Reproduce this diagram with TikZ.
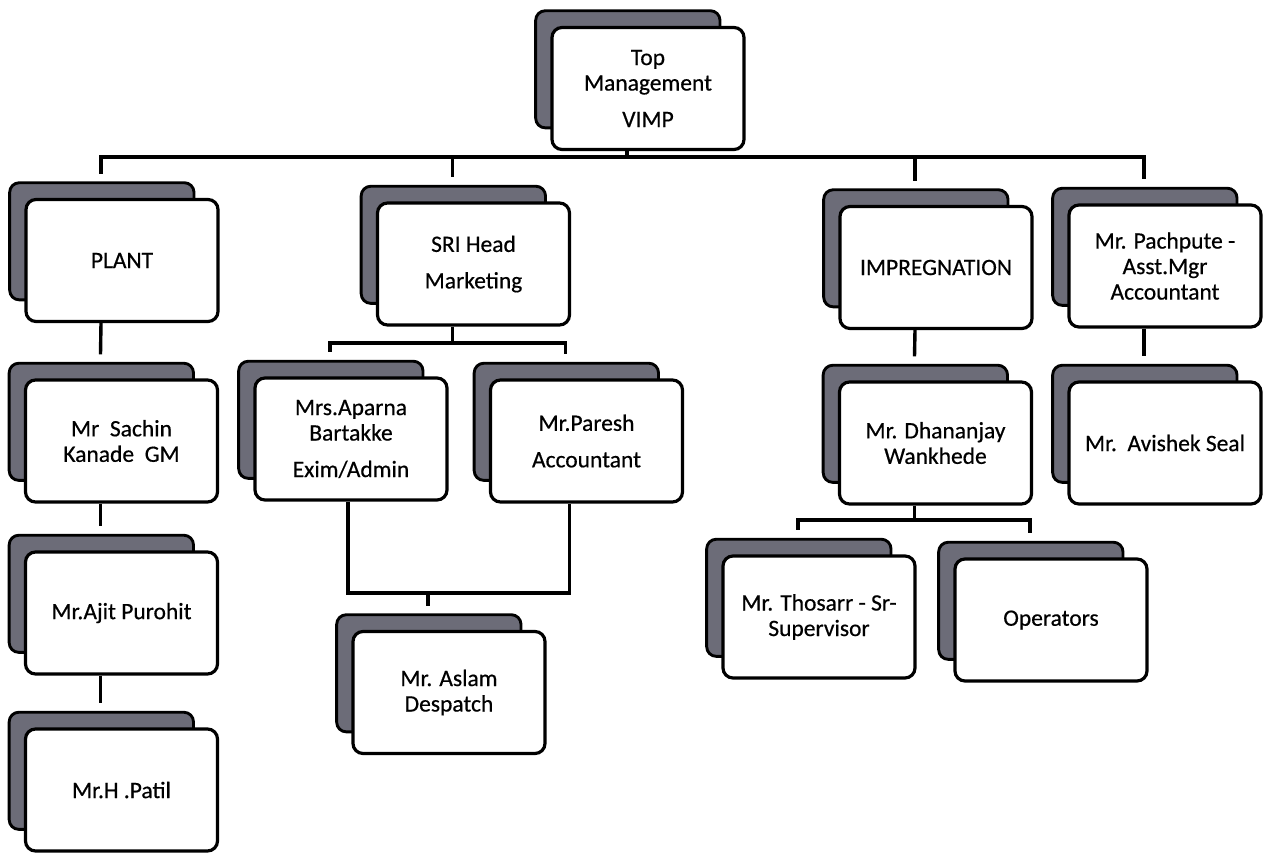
\documentclass[tikz,border=0pt]{standalone}
\usepackage{fontspec}
\setmainfont{Carlito}
\newfontfamily\boxfont{Carlito}[FakeBold=0.5]
\usetikzlibrary{shadows,calc}
\definecolor{shadowgray}{RGB}{108,108,120}
\begin{document}
\begin{tikzpicture}[x=1pt,y=-1pt,
  box/.style={draw=black, line width=3.2pt, fill=white, rounded corners=10pt,
    minimum width=192pt, minimum height=122pt, inner sep=2pt, align=center,
    font=\boxfont\fontsize{23.5}{25.5}\selectfont,
    general shadow={fill=shadowgray, draw=black, line width=3pt,
      shadow scale=0.96, shadow xshift=-21pt, shadow yshift=20pt}},
  conn/.style={draw=black, line width=3.4pt}]
\useasboundingbox[fill=white] (0,0) rectangle (1263,854);
% nodes
\node[box] (top) at (648,88.5) {Top\\Management\\[11pt]VIMP};
\node[box] (plant) at (122,260.5) {PLANT};
\node[box] (sri) at (473.5,264) {SRI Head\\[11pt]Marketing};
\node[box] (impreg) at (936,267.5) {IMPREGNATION};
\node[box] (pach) at (1165,266) {Mr. Pachpute -\\Asst.Mgr\\Accountant};
\node[box] (sachin) at (121.5,441) {Mr\ \ Sachin\\Kanade\ \ GM};
\node[box] (ajit) at (121.5,613) {Mr.Ajit Purohit};
\node[box] (patil) at (121.5,790) {Mr.H .Patil};
\node[box] (aparna) at (351,439) {Mrs.Aparna\\Bartakke\\[11pt]Exim/Admin};
\node[box] (paresh) at (586.5,441) {Mr.Paresh\\[11pt]Accountant};
\node[box] (aslam) at (449,692.5) {Mr. Aslam\\Despatch};
\node[box] (dhan) at (935.5,443) {Mr. Dhananjay\\Wankhede};
\node[box] (avishek) at (1165,443) {Mr.\ \ Avishek Seal};
\node[box] (thos) at (819,617) {Mr. Thosarr - Sr-\\Supervisor};
\node[box] (oper) at (1051,620) {Operators};
% bus coordinates
\coordinate (bus) at (0,157);
\coordinate (sbus) at (0,343);
\coordinate (abus) at (0,593);
\coordinate (dbus) at (0,520);
% top level
\foreach \c in {plant,sri,impreg,pach}
  \draw[conn] ([xshift=-21pt]top.south) -- ([xshift=-21pt]top.south |- bus)
     -| ([xshift=-21pt,yshift=24pt]\c.north);
% straight chains
\draw[conn] ([xshift=-21pt]plant.south) -- ([xshift=-21pt,yshift=24pt]sachin.north);
\draw[conn] ([xshift=-21pt]sachin.south) -- ([xshift=-21pt,yshift=24pt]ajit.north);
\draw[conn] ([xshift=-21pt]ajit.south) -- ([xshift=-21pt,yshift=24pt]patil.north);
\draw[conn] ([xshift=-21pt]impreg.south) -- ([xshift=-21pt,yshift=24pt]dhan.north);
\draw[conn] ([xshift=-21pt]pach.south) -- ([xshift=-21pt,yshift=24pt]avishek.north);
% marketing
\foreach \c in {aparna,paresh}
  \draw[conn] ([xshift=-21pt]sri.south) -- ([xshift=-21pt]sri.south |- sbus)
     -| ([xshift=-21pt,yshift=24pt]\c.north);
\draw[conn] ([xshift=-3pt]aparna.south) -- ([xshift=-3pt]aparna.south |- abus)
   -| ([xshift=-17pt]paresh.south);
\draw[conn] ([xshift=-21pt]aslam.north |- abus) -- ([xshift=-21pt,yshift=24pt]aslam.north);
% impregnation
\foreach \c in {thos,oper}
  \draw[conn] ([xshift=-21pt]dhan.south) -- ([xshift=-21pt]dhan.south |- dbus)
     -| ([xshift=-21pt,yshift=24pt]\c.north);
\end{tikzpicture}
\end{document}
